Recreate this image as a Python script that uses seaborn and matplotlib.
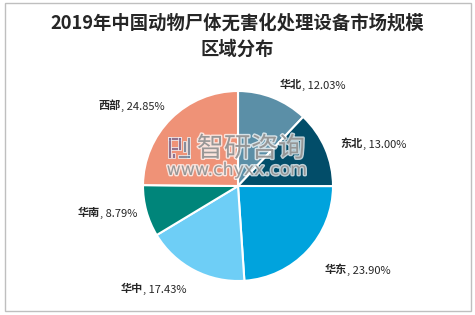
import matplotlib
matplotlib.use("Agg")
import matplotlib.pyplot as plt
import matplotlib.patheffects as pe
from matplotlib.patches import Rectangle
import numpy as np
import seaborn as sns

sns.set_theme(style="white")
plt.rcParams['font.family'] = ['Noto Sans CJK SC', 'DejaVu Sans']

title = "2019年中国动物尸体无害化处理设备市场规模\n区域分布"
regions = ["华北", "东北", "华东", "华中", "华南", "西部"]
shares = [12.03, 13.00, 23.90, 17.43, 8.79, 24.85]
colors = ["#5B8FA7", "#024D69", "#00A3DD", "#6ECEF6", "#00857A", "#EF9277"]
label_dist = [1.08, 1.13, 1.19, 1.18, 1.10, 1.10]

W, H = 475, 315
fig = plt.figure(figsize=(4.75, 3.15), dpi=100)
fig.patch.set_facecolor("white")
fig.patches.append(Rectangle((5/W, 4/H), 466/W, 308/H, transform=fig.transFigure,
                             fill=False, edgecolor="#BFBFBF", linewidth=1.0))

ax = fig.add_axes([238/W - 95/W, 1 - (186 + 95)/H, 190/W, 190/H])
wedges, _ = ax.pie(shares, colors=colors, startangle=90, counterclock=False,
                   wedgeprops=dict(edgecolor="white", linewidth=1.5))
ax.set_xlim(-1, 1)
ax.set_ylim(-1, 1)
ax.set_aspect("equal")
ax.axis("off")

fs = 8
tc = "#262626"
for w, name, val, d in zip(wedges, regions, shares, label_dist):
    ang = np.deg2rad((w.theta1 + w.theta2) / 2)
    c, s = np.cos(ang), np.sin(ang)
    x, y = d * c, d * s
    va = "center" if abs(s) < 0.5 else ("bottom" if s > 0 else "top")
    rest = f", {val:.2f}%"
    if c >= 0:
        t1 = ax.text(x + 0.04, y, name, ha="left", va=va, fontsize=fs, fontweight="bold", color=tc)
        ax.annotate(rest, xy=(1, 0), xycoords=t1, ha="left", va="bottom", fontsize=fs, color=tc)
    else:
        t2 = ax.text(x, y, rest, ha="right", va=va, fontsize=fs, color=tc)
        ax.annotate(name, xy=(0, 0), xycoords=t2, ha="right", va="bottom", fontsize=fs,
                    fontweight="bold", color=tc)

fig.text(0.5, 1 - 36/H, title, ha="center", va="center", fontsize=13.2, fontweight="bold",
         color=tc, linespacing=1.45)

# watermark
stroke = [pe.withStroke(linewidth=2, foreground="white")]
fig.text(251/W, 1 - 149/H, "智研咨询", ha="center", va="center", fontsize=19.5,
         color="#7f7f7f", alpha=0.75, path_effects=stroke)
fig.text(237/W, 1 - 170/H, "www.chyxx.com", ha="center", va="center", fontsize=12.5,
         color="#7f7f7f", alpha=0.75, path_effects=stroke, family="DejaVu Sans")

def logo_rect(x0, y0, x1, y1, col):
    fig.patches.append(Rectangle((x0/W, 1 - y1/H), (x1 - x0)/W, (y1 - y0)/H,
                                 transform=fig.transFigure, facecolor=col, edgecolor="white",
                                 linewidth=0.6, alpha=0.8))

pur = "#7B6A93"
blu = "#6F8BA6"
logo_rect(168, 137, 181, 140, pur)
logo_rect(168, 137, 171, 158, pur)
logo_rect(178, 137, 181, 150, pur)
logo_rect(171, 147, 178, 150, pur)
logo_rect(172, 153, 175, 158, pur)
logo_rect(187, 137, 190, 158, blu)
logo_rect(178, 155, 190, 158, blu)
logo_rect(183, 141, 186, 152, blu)

fig.savefig("out.png", dpi=100, facecolor="white")
